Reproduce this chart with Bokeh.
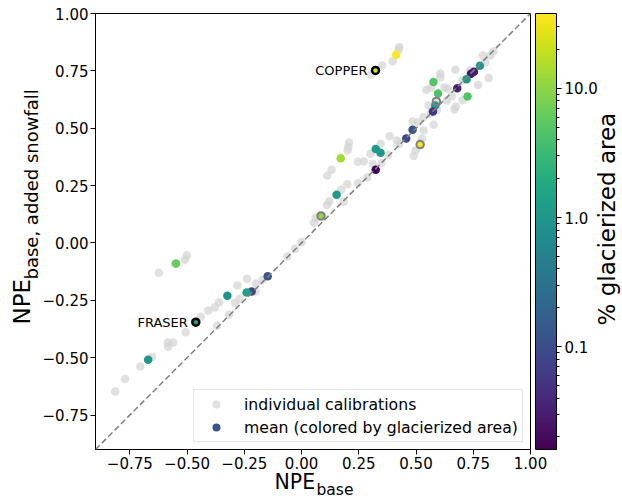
import numpy as np
from bokeh.plotting import figure
from bokeh.models import (ColumnDataSource, LogColorMapper, ColorBar, FixedTicker,
                          PrintfTickFormatter, Slope, Label, Legend, LegendItem, Title,
                          LinearAxis)
from bokeh.palettes import Viridis256
from bokeh.embed import file_html
from bokeh.resources import INLINE

# ---------------- data ----------------
gray_x = [-0.814, -0.771, -0.704, -0.653, -0.584, -0.561, -0.583, -0.506, -0.440, -0.407,
          -0.379, -0.360, -0.369, -0.317, -0.291, -0.270, -0.280, -0.238, -0.198, -0.171,
          -0.201, -0.062, -0.028, 0.000, -0.501, -0.509, -0.553, -0.623, 0.054, 0.062,
          0.111, 0.121, 0.184, 0.173, 0.200, 0.247, 0.287, 0.112, 0.131, 0.246,
          0.272, 0.311, 0.349, 0.301, 0.345, 0.385, 0.417, 0.204, 0.201, 0.207,
          0.378, 0.490, 0.498, 0.526, 0.533, 0.485, 0.509, 0.533, 0.563, 0.577,
          0.555, 0.545, 0.566, 0.624, 0.638, 0.657, 0.606, 0.606, 0.672, 0.704,
          0.667, 0.675, 0.771, 0.817, 0.792, 0.824, 0.839, 0.802, 0.424, 0.427,
          0.398, 0.352, 0.304, 0.702, 0.737, 0.589, 0.427, 0.592, 0.635]
gray_y = [-0.647, -0.593, -0.538, -0.497, -0.434, -0.434, -0.452, -0.389, -0.322, -0.294,
          -0.281, -0.258, -0.361, -0.313, -0.262, -0.243, -0.185, -0.156, -0.177, -0.160,
          -0.211, -0.059, -0.025, 0.004, -0.054, -0.073, -0.091, -0.130, 0.088, 0.110,
          0.166, 0.182, 0.180, 0.232, 0.256, 0.261, 0.285, 0.294, 0.319, 0.354,
          0.355, 0.345, 0.349, 0.389, 0.432, 0.465, 0.447, 0.418, 0.403, 0.438,
          0.383, 0.379, 0.403, 0.454, 0.490, 0.529, 0.526, 0.548, 0.563, 0.515,
          0.599, 0.667, 0.676, 0.678, 0.672, 0.640, 0.739, 0.721, 0.755, 0.622,
          0.582, 0.595, 0.688, 0.719, 0.817, 0.817, 0.836, 0.786, 0.842, 0.854,
          0.792, 0.773, 0.734, 0.708, 0.752, 0.617, 0.432, 0.580, 0.621]

mean_x = [0.413, 0.576, 0.596, 0.725, 0.779, 0.740, 0.753, 0.721, 0.680, 0.584,
          0.574, 0.485, 0.457, 0.324, 0.345, 0.324, 0.171, 0.153, -0.148, -0.218,
          -0.240, -0.324, -0.548, -0.670]
mean_y = [0.820, 0.702, 0.651, 0.638, 0.772, 0.737, 0.746, 0.714, 0.674, 0.599,
          0.573, 0.493, 0.455, 0.409, 0.393, 0.319, 0.369, 0.210, -0.145, -0.211,
          -0.216, -0.230, -0.089, -0.509]
mean_glac = [38.0, 4.8, 4.3, 4.6, 1.0, 0.026, 0.03, 0.95, 0.035, 1.05,
             0.055, 0.12, 0.09, 1.05, 1.0, 0.016, 13.0, 1.1, 0.12, 0.085,
             1.3, 0.9, 6.2, 1.0]

ring_x = [0.589, 0.518, 0.085]
ring_y = [0.617, 0.429, 0.118]
ring_glac = [float("nan"), 33.0, 10.5]

named_labels = ["COPPER", "FRASER"]
named_x = [0.323, -0.462]
named_y = [0.752, -0.345]
named_glac = [24.0, 1.1]

tick_vals = [-0.75, -0.5, -0.25, 0.0, 0.25, 0.5, 0.75, 1.0]
cbar_major = [0.1, 1.0, 10.0]
cbar_minor = [m * d for d in [0.01, 0.1, 1.0, 10.0] for m in range(2, 10) if 0.016 <= m * d <= 38]

FONT = "DejaVu Sans"
X0, X1, Y0, Y1 = -0.9, 1.0, -0.9, 1.0
FRAME_W, FRAME_H = 435, 436

# ---------------- figure ----------------
p = figure(frame_width=FRAME_W, frame_height=FRAME_H, x_range=(X0, X1), y_range=(Y0, Y1),
           output_backend="svg", toolbar_location=None,
           min_border_left=95, min_border_top=13, min_border_bottom=54, min_border_right=0)
p.background_fill_color = "white"
p.border_fill_color = "white"
p.outline_line_color = "black"
p.outline_line_width = 1
p.grid.visible = False

def fmt(v):
    return ("%.2f" % v).replace("-", "\u2212")

for ax in (p.xaxis[0], p.yaxis[0]):
    ax.ticker = FixedTicker(ticks=tick_vals)
    ax.major_label_overrides = {v: fmt(v) for v in tick_vals}
    ax.major_label_text_font = FONT
    ax.major_label_text_font_size = "15px"
    ax.major_label_text_color = "black"
    ax.major_tick_in = 0
    ax.major_tick_out = 5
    ax.minor_tick_in = 0
    ax.minor_tick_out = 0
    ax.axis_line_color = "black"
    ax.major_tick_line_color = "black"
    ax.major_label_standoff = 2

mapper = LogColorMapper(palette=Viridis256, low=0.016, high=38.0, nan_color="rgba(0,0,0,0)")

p.add_layout(Slope(gradient=1, y_intercept=0, line_color="gray", line_width=1.5, line_dash="6 3"))

gsrc = ColumnDataSource(dict(x=gray_x, y=gray_y))
gr = p.scatter("x", "y", source=gsrc, size=8.5, fill_color="lightgray", line_color=None,
               fill_alpha=0.7)

msrc = ColumnDataSource(dict(x=mean_x, y=mean_y, g=mean_glac))
mr = p.scatter("x", "y", source=msrc, size=8.5, fill_color={"field": "g", "transform": mapper},
               line_color=None)

rsrc = ColumnDataSource(dict(x=ring_x, y=ring_y, g=ring_glac))
p.scatter("x", "y", source=rsrc, size=7.5, fill_color={"field": "g", "transform": mapper},
          line_color="gray", line_width=2)

nsrc = ColumnDataSource(dict(x=named_x, y=named_y, g=named_glac))
p.scatter("x", "y", source=nsrc, size=7.0, fill_color={"field": "g", "transform": mapper},
          line_color="black", line_width=2.5)
for i, t in enumerate(named_labels):
    p.add_layout(Label(x=named_x[i], y=named_y[i], text=t, x_offset=-8, text_align="right",
                       text_baseline="middle", text_font=FONT, text_font_size="13px",
                       text_color="black"))

legend = Legend(items=[LegendItem(label="individual calibrations", renderers=[gr], index=0),
                       LegendItem(label="mean (colored by glacierized area)", renderers=[mr], index=11)],
                location="bottom_right", label_text_font=FONT, label_text_font_size="15.7px",
                label_text_color="black",
                border_line_color="#cccccc", border_line_width=1, margin=7, padding=4,
                spacing=3, label_height=20, glyph_width=36, glyph_height=20, label_standoff=10,
                background_fill_alpha=0.8)
p.add_layout(legend)

def set_standoff(t, v):
    try:
        t.standoff = v
    except Exception:
        t.standoff = 0

# x label: NPE_base
tx1 = Title(text="NPE", align="left", offset=179, vertical_align="bottom", text_font=FONT,
            text_font_size="20.5px", text_font_style="normal", text_color="black")
set_standoff(tx1, -7)
tx2 = Title(text="base", align="left", offset=221, vertical_align="top", text_font=FONT,
            text_font_size="15.5px", text_font_style="normal", text_color="black")
set_standoff(tx2, -20)
p.add_layout(tx1, "below")
p.add_layout(tx2, "below")

# y label: NPE_base, added snowfall
ty2 = Title(text="base, added snowfall", align="left", offset=170, text_font=FONT,
            text_font_size="18px", text_font_style="normal", text_color="black")
set_standoff(ty2, -5)
ty1 = Title(text="NPE", align="left", offset=125, text_font=FONT, text_font_size="23px",
            text_font_style="normal", text_color="black")
set_standoff(ty1, -26)
p.add_layout(ty2, "left")
p.add_layout(ty1, "left")

# small gap between frame and colour bar
spacer = LinearAxis(ticker=FixedTicker(ticks=[0.0]), major_label_overrides={0: ""},
                    major_label_text_font_size="0px", axis_line_color=None,
                    major_tick_line_color=None, minor_tick_line_color=None,
                    major_tick_in=0, major_tick_out=5, major_label_standoff=0)
p.add_layout(spacer, "right")

cbar = ColorBar(color_mapper=mapper, width=21, height=FRAME_H, margin=0, padding=0,
                ticker=FixedTicker(ticks=cbar_major, minor_ticks=cbar_minor),
                formatter=PrintfTickFormatter(format="%.1f"),
                major_label_text_font=FONT, major_label_text_font_size="15px",
                major_label_text_color="black",
                major_tick_in=0, major_tick_out=5, minor_tick_in=0, minor_tick_out=3,
                major_tick_line_color="black", minor_tick_line_color="black",
                bar_line_color="black", bar_line_width=1, label_standoff=3,
                background_fill_color=None, border_line_color=None)
p.add_layout(cbar, "right")

# colour-bar label: drawn as a rotated tick label starting ~124 px below the frame centre
cb_label = "% glacierized area"
label_start = Y0 + (Y1 - Y0) * (449 - 325) / FRAME_H
lab_ax = LinearAxis(ticker=FixedTicker(ticks=[label_start]),
                    major_label_overrides={label_start: cb_label},
                    major_label_orientation=np.pi / 2,
                    major_label_text_font=FONT, major_label_text_font_size="23px",
                    major_label_text_color="black", major_label_standoff=6,
                    axis_line_color=None, major_tick_line_color=None,
                    minor_tick_line_color=None, major_tick_in=0, major_tick_out=0)
p.add_layout(lab_ax, "right")

open("out.html", "w").write(file_html(p, INLINE))
